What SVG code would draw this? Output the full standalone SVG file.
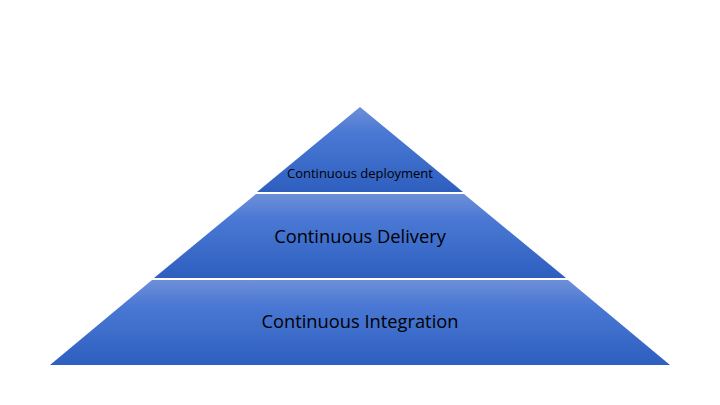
<svg xmlns="http://www.w3.org/2000/svg" width="720" height="405" viewBox="0 0 720 405">
<defs>
<linearGradient id="g" x1="0" y1="0" x2="0" y2="1">
<stop offset="0" stop-color="#6e8fd8"/>
<stop offset="0.3" stop-color="#4a78d4"/>
<stop offset="1" stop-color="#2e5fbf"/>
</linearGradient>
</defs>
<style>text{font-family:"Open Sans","Liberation Sans",sans-serif;fill:#000;text-anchor:middle}</style>
<rect width="720" height="405" fill="#fff"/>
<g id="deployment"><polygon points="360,107 463,192 257,192" fill="url(#g)"/><text x="360" y="178" font-size="13">Continuous deployment</text></g>
<g id="delivery"><polygon points="256,194 464,194 566,278 154,278" fill="url(#g)"/><text x="360" y="243" font-size="18.3">Continuous Delivery</text></g>
<g id="integration"><polygon points="152,280 568,280 670,365 50,365" fill="url(#g)"/><text x="360" y="328" font-size="18.3">Continuous Integration</text></g>
<g id="connectors"/>
</svg>
